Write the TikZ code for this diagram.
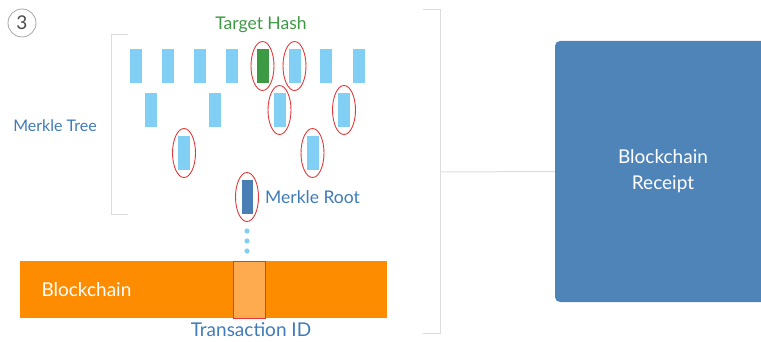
\documentclass[tikz,border=0pt]{standalone}
\usepackage{fontspec}
\setmainfont{Lato}
\usetikzlibrary{positioning}
\definecolor{leafblue}{HTML}{82CFF5}
\definecolor{targetgreen}{HTML}{3C9A44}
\definecolor{rootblue}{HTML}{4A7FB6}
\definecolor{textblue}{HTML}{3F7BB8}
\definecolor{chainorange}{HTML}{FD8C00}
\definecolor{txorange}{HTML}{FEAA4E}
\definecolor{ringred}{HTML}{E2383A}
\definecolor{bracketgray}{HTML}{DCDCDC}
\definecolor{receiptblue}{HTML}{4F84B9}
\tikzset{
  hashbox/.style={rectangle,fill=leafblue,minimum width=12pt,minimum height=34pt,inner sep=0pt},
  ring/.style={draw=ringred,line width=0.9pt},
  bracket/.style={draw=bracketgray,line width=1pt},
  lbl/.style={font=\fontsize{17.5}{20}\selectfont},
  biglbl/.style={font=\fontsize{19}{22}\selectfont}
}
\begin{document}
\begin{tikzpicture}[x=1pt,y=-1pt]
	\useasboundingbox (0,0) rectangle (761,342);
	\clip (0,0) rectangle (761,342);
	% step number
	\node[circle,draw=gray!70,line width=0.8pt,minimum size=28pt,inner sep=0pt,text=black!70,biglbl] (step) at (22,23) {3};
	% merkle tree, leaves
	\foreach \x/\c [count=\i] in {135.5/leafblue,168/leafblue,200/leafblue,232/leafblue,262.5/targetgreen,294.5/leafblue,326/leafblue,358.5/leafblue}
		\node[hashbox,fill=\c] (t\i) at (\x,66) {};
	% middle levels
	\foreach \x [count=\i] in {150.5,215,279.5,344}
		\node[hashbox] (m\i) at (\x,110) {};
	\foreach \x [count=\i] in {184,312.5}
		\node[hashbox] (n\i) at (\x,153) {};
	\node[hashbox,fill=rootblue,minimum width=11pt] (root) at (247,197) {};
	% proof path
	\foreach \h in {t5,t6,m3,m4,n1,n2,root}
		\draw[ring] (\h) ellipse [x radius=11.5,y radius=24.5];
	\node[lbl,text=targetgreen] (target) at (261,25) {Target Hash};
	\node[lbl,text=textblue,font=\fontsize{16}{19}\selectfont] (tree) at (55,126) {Merkle Tree};
	\node[lbl,text=textblue,right=9pt of root] (rootlbl) {Merkle Root};
	\draw[bracket] (128,35) -- (111,35) -- (111,215) -- (128,215);
	% dots down to the chain
	\foreach \y in {231,241,251}
		\fill[leafblue] (247,\y) circle (2.6pt);
	% blockchain
	\node[rectangle,fill=chainorange,minimum width=367pt,minimum height=57pt,inner sep=0pt] (chain) at (203.5,289.5) {};
	\node[biglbl,text=white,anchor=west] (chainlbl) at (38,290) {Blockchain};
	\node[rectangle,fill=txorange,draw=ringred,line width=0.8pt,minimum width=32pt,minimum height=57pt,inner sep=0pt] (tx) at (249,289.5) {};
	\node[biglbl,text=textblue] (txlbl) at (251,330) {Transaction ID};
	% receipt
	\draw[bracket] (423,10) -- (440,10) -- (440,333) -- (423,333);
	\coordinate (brk) at (440,172);
	\node[rectangle,rounded corners=5pt,fill=receiptblue,minimum width=216pt,minimum height=261pt,text=white,align=center,font=\fontsize{19}{26}\selectfont] (receipt) at (663,171.5) {Blockchain\\Receipt};
	\draw[bracket] (brk) -- (receipt.west);
\end{tikzpicture}
\end{document}
